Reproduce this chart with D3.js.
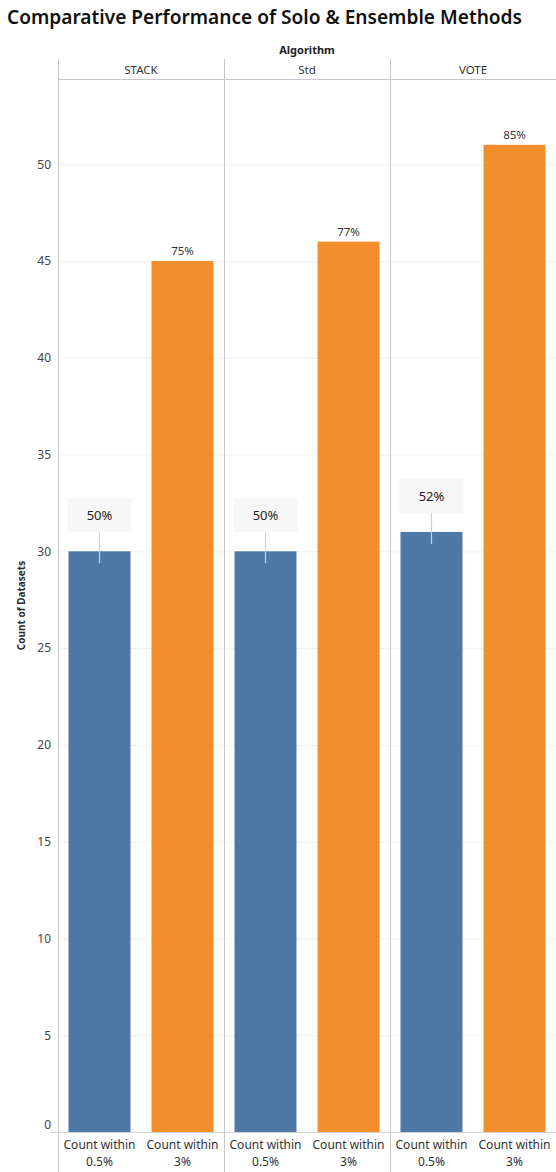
<!DOCTYPE html>
<html>
<head>
<meta charset="utf-8">
<title>Comparative Performance of Solo & Ensemble Methods</title>
<script src="https://d3js.org/d3.v7.min.js"></script>
<style>
  body { margin: 0; background: #fff; }
  text { font-family: "Noto Sans", "Open Sans", sans-serif; }
</style>
</head>
<body>
<div id="chart"></div>
<script>
// data
var algorithms = ["STACK", "Std", "VOTE"];
var measures = ["Count within 0.5%", "Count within 3%"];
var countWithinHalf = [30, 30, 31];
var countWithinThree = [45, 46, 51];
var pctWithinHalf = ["50%", "50%", "52%"];
var pctWithinThree = ["75%", "77%", "85%"];
var yTicks = [0, 5, 10, 15, 20, 25, 30, 35, 40, 45, 50];

var W = 556, H = 1172;
var plotLeft = 58, plotTop = 79, plotBottom = 1132, headTop = 59;
var colors = ["#4e79a7", "#f28e2b"];

var svg = d3.select("#chart").append("svg")
  .attr("width", W).attr("height", H);

svg.append("text")
  .attr("x", 7).attr("y", 24)
  .attr("font-size", 19).attr("font-weight", 600)
  .attr("fill", "#111")
  .attr("textLength", 515).attr("lengthAdjust", "spacingAndGlyphs")
  .text("Comparative Performance of Solo & Ensemble Methods");

var y = d3.scaleLinear().domain([0, 54.4]).range([plotBottom, plotTop]);
var panel = d3.scaleBand().domain(algorithms).range([plotLeft, W]);
var inner = d3.scaleBand().domain(measures)
  .range([0, panel.bandwidth()]).paddingInner(0.253).paddingOuter(0.1265);

// gridlines
svg.append("g").selectAll("line").data(yTicks.slice(1)).join("line")
  .attr("x1", plotLeft).attr("x2", W)
  .attr("y1", function(d){ return y(d) + 0.5; }).attr("y2", function(d){ return y(d) + 0.5; })
  .attr("stroke", "#efefef");

// y axis
var yAxis = svg.append("g").attr("transform", "translate(" + plotLeft + ",0)")
  .call(d3.axisLeft(y).tickValues(yTicks).tickSize(0).tickPadding(7));
yAxis.select(".domain").remove();
yAxis.selectAll("text")
  .attr("font-size", 12).attr("fill", "#444")
  .attr("font-family", "Noto Sans, sans-serif")
  .attr("dy", function(d){ return d === 0 ? "-0.3em" : "0.32em"; });

svg.append("text")
  .attr("transform", "translate(25," + ((plotTop + plotBottom) / 2) + ") rotate(-90)")
  .attr("text-anchor", "middle")
  .attr("font-size", 10).attr("font-weight", 700).attr("fill", "#2a2a2a")
  .text("Count of Datasets");

// header
svg.append("text")
  .attr("x", (plotLeft + W) / 2).attr("y", 54)
  .attr("text-anchor", "middle")
  .attr("font-size", 11).attr("font-weight", 700).attr("fill", "#222")
  .text("Algorithm");

svg.append("line")
  .attr("x1", plotLeft).attr("x2", W).attr("y1", plotTop + 0.5).attr("y2", plotTop + 0.5)
  .attr("stroke", "#c8c8c8");
svg.append("line")
  .attr("x1", 50).attr("x2", W).attr("y1", plotBottom + 0.5).attr("y2", plotBottom + 0.5)
  .attr("stroke", "#d4d4d4");

var rows = algorithms.map(function(a, i){
  return { alg: a, vals: [countWithinHalf[i], countWithinThree[i]],
           pcts: [pctWithinHalf[i], pctWithinThree[i]] };
});

var panels = svg.append("g").selectAll("g").data(rows).join("g")
  .attr("transform", function(d){ return "translate(" + panel(d.alg) + ",0)"; });

panels.append("line")
  .attr("x1", 0.5).attr("x2", 0.5).attr("y1", headTop).attr("y2", H)
  .attr("stroke", "#c8c8c8");

panels.append("text")
  .attr("x", panel.bandwidth() / 2).attr("y", 74)
  .attr("text-anchor", "middle")
  .attr("font-size", 11.5).attr("fill", "#333")
  .text(function(d){ return d.alg; });

var bars = panels.selectAll("g.bar").data(function(d){
  return measures.map(function(m, j){ return { m: m, j: j, v: d.vals[j], p: d.pcts[j] }; });
}).join("g").attr("class", "bar");

bars.append("rect")
  .attr("x", function(d){ return inner(d.m); })
  .attr("width", inner.bandwidth())
  .attr("y", function(d){ return y(d.v); })
  .attr("height", function(d){ return plotBottom - y(d.v); })
  .attr("fill", function(d){ return colors[d.j]; });

// labels on orange bars
bars.filter(function(d){ return d.j === 1; }).append("text")
  .attr("x", function(d){ return inner(d.m) + inner.bandwidth() / 2; })
  .attr("y", function(d){ return y(d.v) - 6; })
  .attr("text-anchor", "middle")
  .attr("font-size", 11.5).attr("fill", "#333")
  .text(function(d){ return d.p; });

// annotation callouts on blue bars
var ann = bars.filter(function(d){ return d.j === 0; });
ann.append("line")
  .attr("x1", function(d){ return inner(d.m) + inner.bandwidth() / 2; })
  .attr("x2", function(d){ return inner(d.m) + inner.bandwidth() / 2; })
  .attr("y1", function(d){ return y(d.v) - 19; })
  .attr("y2", function(d){ return y(d.v) + 12; })
  .attr("stroke", "#d0d0d0").attr("stroke-width", 1.2);
ann.append("rect")
  .attr("x", function(d){ return inner(d.m) + inner.bandwidth() / 2 - 32; })
  .attr("y", function(d){ return y(d.v) - 53; })
  .attr("width", 64).attr("height", 34)
  .attr("fill", "#f7f7f7");
ann.append("text")
  .attr("x", function(d){ return inner(d.m) + inner.bandwidth() / 2; })
  .attr("y", function(d){ return y(d.v) - 31; })
  .attr("text-anchor", "middle")
  .attr("font-size", 13).attr("fill", "#222")
  .text(function(d){ return d.p; });

// bottom category labels
var cat = panels.selectAll("text.cat").data(measures).join("text")
  .attr("class", "cat")
  .attr("text-anchor", "middle")
  .attr("font-size", 12).attr("fill", "#333");
cat.append("tspan")
  .attr("x", function(d){ return inner(d) + inner.bandwidth() / 2; })
  .attr("y", 1149)
  .text(function(d){ return d.replace(/ [^ ]+$/, ""); });
cat.append("tspan")
  .attr("x", function(d){ return inner(d) + inner.bandwidth() / 2; })
  .attr("y", 1166)
  .text(function(d){ return d.split(" ").pop(); });
</script>
</body>
</html>
